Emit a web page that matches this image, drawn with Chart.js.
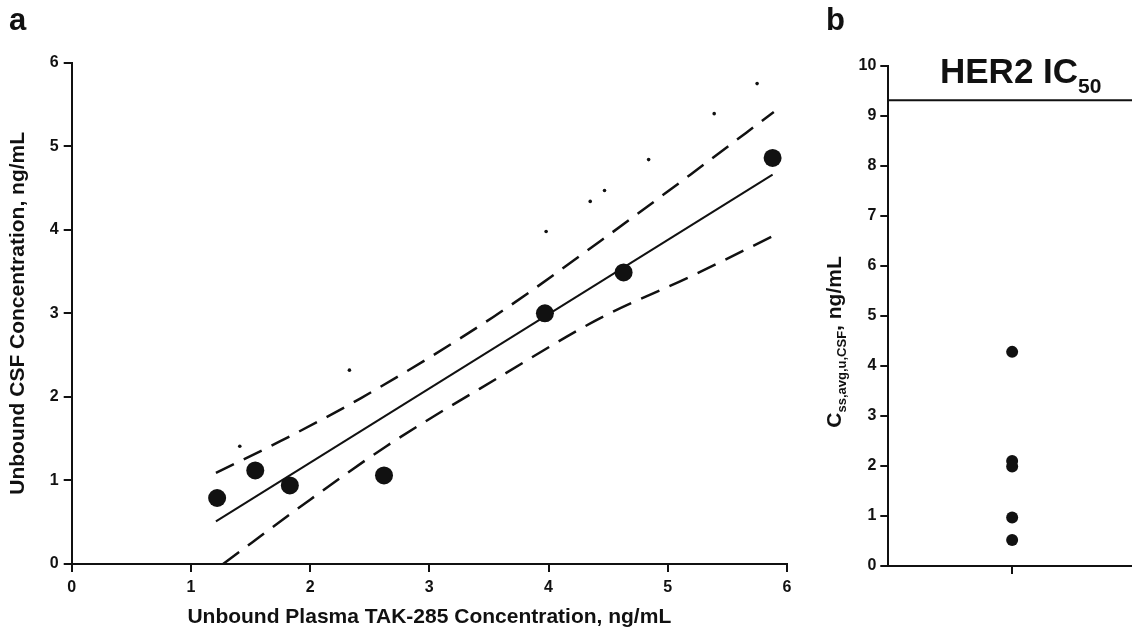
<!DOCTYPE html>
<html>
<head>
<meta charset="utf-8">
<script src="https://cdn.jsdelivr.net/npm/chart.js@4/dist/chart.umd.min.js"></script>
<style>
  html, body { margin: 0; padding: 0; background: #fff; overflow: hidden; }
  body { width: 1132px; height: 630px; position: relative; font-family: "Liberation Sans", Arial, sans-serif; color: #111; }
  canvas { position: absolute; top: 0; }
  .lbl { position: absolute; font-weight: bold; white-space: nowrap; }
</style>
</head>
<body>
<canvas id="panel-a" width="800" height="630" style="left:0"></canvas>
<canvas id="panel-b" width="336" height="630" style="left:800px"></canvas>

<div class="lbl" style="left:9px; top:0px; font-size:31px; line-height:40px;">a</div>
<div class="lbl" style="left:826px; top:0px; font-size:31px; line-height:40px;">b</div>
<div class="lbl" style="left:940px; top:53px; font-size:35px; line-height:35px;">HER2 IC<span style="font-size:21px; position:relative; top:10px;">50</span></div>
<div class="lbl" style="left:834px; top:342px; font-size:21px; transform: translate(-50%, -50%) rotate(-90deg);">C<span style="font-size:13px; position:relative; top:5px;">ss,avg,u,CSF</span>, ng/mL</div>

<script>
// panel a: unbound plasma vs CSF concentration
const plasmaConc = [1.22, 1.54, 1.83, 2.62, 3.97, 4.63, 5.88];
const csfConc = [0.79, 1.12, 0.94, 1.06, 3.00, 3.49, 4.86];

const fitX = [1.21, 5.88];
const fitY = [0.51, 4.66];

const upperCiX = [1.21, 1.75, 2.42, 3.54, 4.43, 5.19, 5.89];
const upperCiY = [1.09, 1.47, 1.98, 2.96, 3.86, 4.66, 5.41];
const lowerCiX = [1.27, 2.00, 2.64, 3.59, 4.43, 5.19, 5.89];
const lowerCiY = [0.00, 0.77, 1.41, 2.24, 2.94, 3.44, 3.93];

const unityX = [1.41, 2.33, 3.98, 4.35, 4.47, 4.84, 5.39, 5.75];
const unityY = [1.41, 2.32, 3.98, 4.34, 4.47, 4.84, 5.39, 5.75];

const axisTicksA = [0, 1, 2, 3, 4, 5, 6];

// panel b: Css,avg,u,CSF per patient, HER2 IC50 line
const cssValues = [4.28, 2.10, 1.99, 0.97, 0.52];
const her2IC50 = 9.31;

const ink = '#111';
const pts = (xs, ys) => xs.map((x, i) => ({ x: x, y: ys[i] }));

const tickFont = { family: 'Liberation Sans', size: 16, weight: 'bold' };
const titleFont = { family: 'Liberation Sans', size: 21, weight: 'bold' };
const axisGrid = { display: true, drawOnChartArea: false, color: ink, lineWidth: 2, tickLength: 8 };
const axisBorder = { display: true, color: ink, width: 2 };

new Chart(document.getElementById('panel-a'), {
    type: 'scatter',
    data: {
        datasets: [{
            data: pts(plasmaConc, csfConc),
            pointRadius: 9,
            backgroundColor: ink,
            borderWidth: 0,
        }, {
            data: pts(fitX, fitY),
            showLine: true,
            pointRadius: 0,
            borderColor: ink,
            borderWidth: 2,
        }, {
            data: pts(upperCiX, upperCiY),
            showLine: true,
            pointRadius: 0,
            borderColor: ink,
            borderWidth: 2.5,
            borderDash: [20, 11],
            cubicInterpolationMode: 'monotone',
        }, {
            data: pts(lowerCiX, lowerCiY),
            showLine: true,
            pointRadius: 0,
            borderColor: ink,
            borderWidth: 2.5,
            borderDash: [20, 11],
            cubicInterpolationMode: 'monotone',
        }, {
            data: pts(unityX, unityY),
            pointRadius: 1.8,
            backgroundColor: ink,
            borderWidth: 0,
        }],
    },
    options: {
        responsive: false,
        animation: false,
        layout: { autoPadding: false, padding: { left: 0, top: 62.7, right: 13.1, bottom: 0 } },
        plugins: { legend: { display: false }, tooltip: { enabled: false } },
        scales: {
            x: {
                type: 'linear', min: 0, max: 6,
                afterBuildTicks: s => { s.ticks = axisTicksA.map(v => ({ value: v })); },
                afterFit: s => { s.height = 66; },
                grid: axisGrid, border: axisBorder,
                ticks: { color: ink, font: tickFont, padding: 6 },
                title: {
                    display: true, text: 'Unbound Plasma TAK-285 Concentration, ng/mL',
                    color: ink, font: titleFont,
                    padding: { top: 0, bottom: 0 },
                },
            },
            y: {
                type: 'linear', min: 0, max: 6,
                afterBuildTicks: s => { s.ticks = axisTicksA.map(v => ({ value: v })); },
                afterFit: s => { s.width = 71.7; },
                grid: axisGrid, border: axisBorder,
                ticks: { color: ink, font: tickFont, padding: 5 },
                title: {
                    display: true, text: 'Unbound CSF Concentration, ng/mL',
                    color: ink, font: titleFont,
                    padding: { top: 6, bottom: 0 },
                },
            },
        },
    },
});

new Chart(document.getElementById('panel-b'), {
    type: 'scatter',
    data: {
        datasets: [{
            data: cssValues.map(v => ({ x: 1, y: v })),
            pointRadius: 6,
            backgroundColor: ink,
            borderWidth: 0,
        }, {
            data: [{ x: 0, y: her2IC50 }, { x: 2, y: her2IC50 }],
            showLine: true,
            pointRadius: 0,
            borderColor: ink,
            borderWidth: 2,
        }],
    },
    options: {
        responsive: false,
        animation: false,
        layout: { autoPadding: false, padding: { left: 0, top: 65.7, right: 0, bottom: 0 } },
        plugins: { legend: { display: false }, tooltip: { enabled: false } },
        scales: {
            x: {
                type: 'linear', min: 0, max: 2,
                afterBuildTicks: s => { s.ticks = [{ value: 1 }]; },
                afterFit: s => { s.height = 64; },
                grid: axisGrid, border: axisBorder,
                ticks: { display: true, callback: () => '', font: tickFont },
            },
            y: {
                type: 'linear', min: 0, max: 10,
                ticks: { stepSize: 1, color: ink, font: tickFont, padding: 4 },
                afterFit: s => { s.width = 88.3; },
                grid: axisGrid, border: axisBorder,
            },
        },
    },
});
</script>
</body>
</html>
